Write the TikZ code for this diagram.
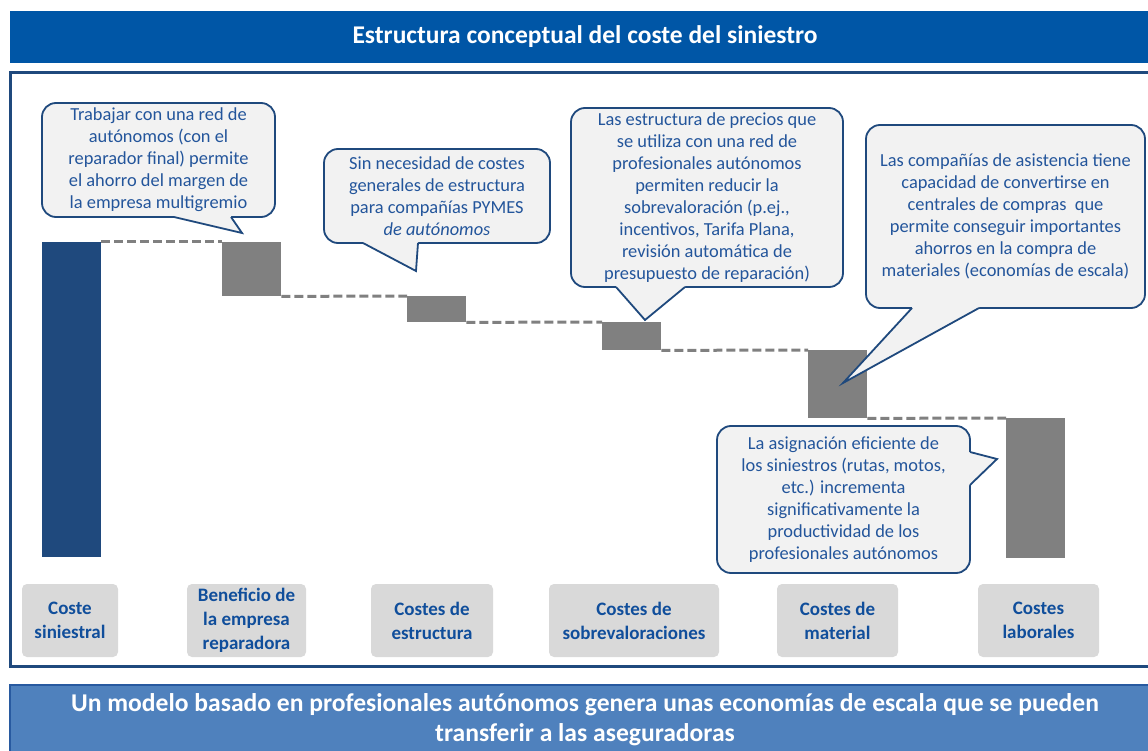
\documentclass[tikz,border=0pt]{standalone}
\usepackage{fontspec}
\setmainfont{Carlito}
\definecolor{titlebar}{RGB}{0,86,166}
\definecolor{framecol}{RGB}{31,73,125}
\definecolor{bannerfill}{RGB}{79,129,189}
\definecolor{bannerline}{RGB}{40,90,160}
\definecolor{barblue}{RGB}{31,73,125}
\definecolor{bargray}{RGB}{128,128,128}
\definecolor{bubblefill}{RGB}{242,242,242}
\definecolor{bubbletext}{RGB}{35,85,155}
\definecolor{labelfill}{RGB}{217,217,217}
\definecolor{labeltext}{RGB}{16,78,155}
\tikzset{
  guide/.style={draw=bargray,line width=3pt,dash pattern=on 9pt off 4pt},
  bubble/.style={draw=framecol,fill=bubblefill,line width=1.8pt,rounded corners=14pt,
    text=bubbletext,align=center,inner sep=0pt,font=\fontsize{18.4pt}{22pt}\selectfont},
  tipline/.style={draw=framecol,line width=1.8pt,line join=miter},
}
\begin{document}
\begin{tikzpicture}[x=1pt,y=-1pt]
\clip (0,0) rectangle (1148,751);
\fill[white] (0,0) rectangle (1148,751);
% header, frame, footer
\node[fill=titlebar,minimum width=1150pt,minimum height=52pt,inner sep=0pt,text=white,
  font=\bfseries\fontsize{25.5pt}{28pt}\selectfont] (T) at (585,37) {Estructura conceptual del coste del siniestro};
\draw[framecol,line width=3pt] (10,73) rectangle (1175,666);
\fill[bannerfill] (10,685) rectangle (1175,770);
\draw[bannerline,line width=1.5pt] (10,770) -- (10,685) -- (1175,685);
\node[text=white,align=center,font=\bfseries\fontsize{25.6pt}{30pt}\selectfont] (U) at (585,720)
  {Un modelo basado en profesionales autónomos genera unas economías de escala que se pueden\\transferir a las aseguradoras};
\begin{scope}[every node/.style={anchor=north west,inner sep=0pt,minimum width=59pt}]
  \node[fill=barblue,minimum height=315pt] (B0) at (42,242) {};
  \node[fill=bargray,minimum height=54pt] (B1) at (222,242) {};
  \node[fill=bargray,minimum height=26pt] (B2) at (407,296) {};
  \node[fill=bargray,minimum height=28pt] (B3) at (602,322) {};
  \node[fill=bargray,minimum height=68pt] (B4) at (808,350) {};
  \node[fill=bargray,minimum height=140pt] (B5) at (1006,418) {};
\end{scope}
\draw[guide] (B0.north east) -- (B1.north west);
\draw[guide] (B1.south east) -- (B2.north west);
\draw[guide] (B2.south east) -- (B3.north west);
\draw[guide] (B3.south east) -- (B4.north west);
\draw[guide] (B4.south east) -- (B5.north west);
\begin{scope}[every node/.style={fill=labelfill,rounded corners=5pt,text=labeltext,align=center,
    inner sep=0pt,minimum height=73pt,font=\bfseries\fontsize{19pt}{24pt}\selectfont}]
  \node[minimum width=96pt] (L0) at (70,620.5) {Coste\\siniestral};
  \node[minimum width=119pt] (L1) at (246.5,620.5) {Beneficio de\\la empresa\\reparadora};
  \node[minimum width=122pt] (L2) at (432,620.5) {Costes de\\estructura};
  \node[minimum width=170pt] (L3) at (634,620.5) {Costes de\\sobrevaloraciones};
  \node[minimum width=121pt] (L4) at (837.5,620.5) {Costes de\\material};
  \node[minimum width=121pt] (L5) at (1038.5,620.5) {Costes\\laborales};
\end{scope}
\begin{scope}[every node/.style={bubble}]
  \node[minimum width=233pt,minimum height=114pt] (N1) at (158.5,160)
    {Trabajar con una red de\\autónomos (con el\\reparador final) permite\\el ahorro del margen de\\la empresa multigremio};
  \node[minimum width=226pt,minimum height=94pt] (N2) at (437,196)
    {Sin necesidad de costes\\generales de estructura\\para compañías PYMES\\\textit{de autónomos}};
  \node[minimum width=272pt,minimum height=179pt] (N3) at (707,197.5)
    {Las estructura de precios que\\se utiliza con una red de\\profesionales autónomos\\permiten reducir la\\sobrevaloración (p.ej.,\\incentivos, Tarifa Plana,\\revisión automática de\\presupuesto de reparación)};
  \node[minimum width=279pt,minimum height=183pt] (N4) at (1005.5,216.5)
    {Las compañías de asistencia tiene\\capacidad de convertirse en\\centrales de compras \ que\\permite conseguir importantes\\ahorros en la compra de\\materiales (economías de escala)};
  \node[minimum width=253pt,minimum height=147pt] (N5) at (843.5,499.5)
    {La asignación eficiente de\\los siniestros (rutas, motos,\\etc.) incrementa\\significativamente la\\productividad de los\\profesionales autónomos};
\end{scope}
% pointers of the callouts
\fill[bubblefill] (174,214) -- (174,217) -- (242,233) -- (231,217) -- (231,214) -- cycle;
\draw[tipline] (174,217) -- (242,233) -- (231,217);
\fill[bubblefill] (363,240) -- (363,243) -- (416,271) -- (418,243) -- (418,240) -- cycle;
\draw[tipline] (363,243) -- (416,271) -- (418,243);
\fill[bubblefill] (616,284) -- (616,287) -- (645,320) -- (685,287) -- (685,284) -- cycle;
\draw[tipline] (616,287) -- (645,320) -- (685,287);
\fill[bubblefill] (912,305) -- (912,308) -- (843,383) -- (979,308) -- (979,305) -- cycle;
\draw[tipline] (912,308) -- (843,383) -- (979,308);
\fill[bubblefill] (967,452) -- (970,452) -- (997,459) -- (970,485) -- (967,485) -- cycle;
\draw[tipline] (970,452) -- (997,459) -- (970,485);
\end{tikzpicture}
\end{document}
